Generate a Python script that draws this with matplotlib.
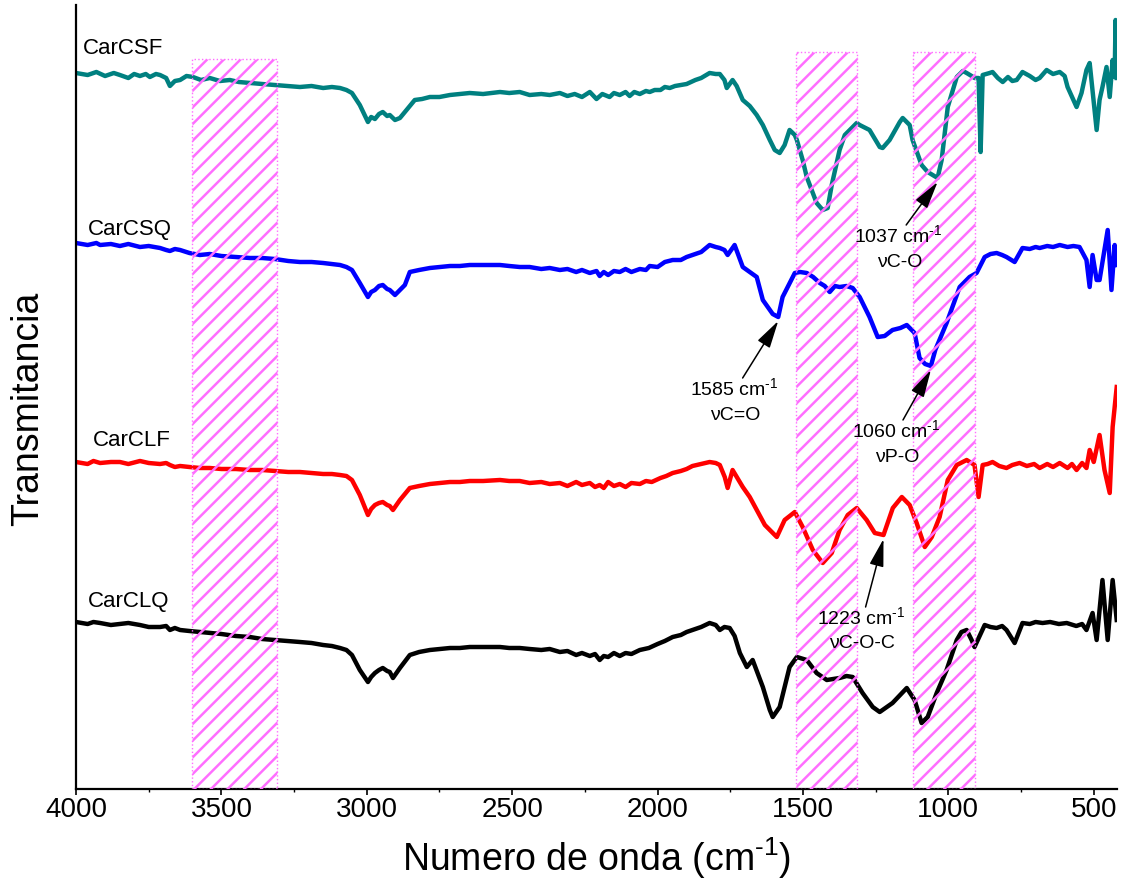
import matplotlib
matplotlib.use("Agg")
import matplotlib.pyplot as plt
from matplotlib.patches import Rectangle
from matplotlib.ticker import MultipleLocator

plt.rcParams['font.family'] = ['Liberation Sans', 'DejaVu Sans']
plt.rcParams['mathtext.fontset'] = 'custom'
plt.rcParams['mathtext.rm'] = 'Liberation Sans'
plt.rcParams['mathtext.it'] = 'Liberation Sans:italic'
plt.rcParams['hatch.linewidth'] = 1.8

# ---- spectra (wavenumber in cm-1, transmittance in offset a.u.) ----
csf = [(4000,72.7),(3960,72.5),(3930,72.8),(3900,72.4),(3870,72.7),(3849,72.5),(3820,72.2),(3800,72.6),(3780,72.4),(3760,72.6),(3746,72.3),(3725,72.6),(3711,72.5),(3690,72.2),(3677,71.4),(3660,71.9),(3642,72.0),(3620,72.4),(3598,72.3),(3570,72.0),(3540,72.2),(3505,71.9),(3471,72.0),(3440,71.8),(3402,71.7),(3360,71.6),(3316,71.5),(3270,71.4),(3230,71.3),(3190,71.4),(3150,71.2),(3120,71.3),(3092,71.2),(3070,71.0),(3051,70.7),(3024,69.5),(2996,67.8),(2985,68.3),(2972,68.1),(2958,68.6),(2945,68.8),(2930,68.4),(2921,68.5),(2903,68.0),(2886,68.2),(2869,68.8),(2835,70.0),(2810,70.1),(2783,70.3),(2750,70.3),(2714,70.5),(2680,70.6),(2646,70.7),(2600,70.6),(2542,70.8),(2510,70.7),(2474,70.8),(2440,70.5),(2400,70.6),(2371,70.5),(2336,70.7),(2310,70.4),(2285,70.6),(2260,70.3),(2233,70.8),(2210,70.1),(2190,70.6),(2165,70.3),(2150,70.7),(2130,70.5),(2110,70.8),(2096,70.4),(2080,70.8),(2061,70.6),(2040,70.9),(2027,70.8),(2010,71.0),(1990,71.0),(1975,71.3),(1958,71.2),(1940,71.4),(1920,71.5),(1900,71.6),(1870,72.0),(1850,72.2),(1821,72.7),(1800,72.6),(1786,72.6),(1770,72.0),(1762,71.2),(1742,72.0),(1728,71.4),(1707,70.0),(1683,69.4),(1659,68.5),(1638,67.5),(1614,66.0),(1597,65.0),(1580,64.7),(1563,65.5),(1546,67.0),(1528,66.5),(1521,66.0),(1501,64.0),(1487,62.3),(1453,59.7),(1432,59.0),(1415,59.2),(1401,61.5),(1374,65.0),(1356,66.5),(1315,67.7),(1305,67.5),(1271,67.0),(1236,65.3),(1226,65.2),(1202,66.0),(1167,67.8),(1157,68.2),(1133,67.5),(1123,66.0),(1092,63.5),(1071,62.8),(1037,62.2),(1023,64.0),(1002,69.3),(971,72.3),(950,72.9),(937,72.7),(920,72.4),(910,72.2),(896,72.2),(889,64.8),(882,72.5),(858,72.7),(848,72.8),(830,72.2),(813,71.8),(795,72.3),(780,71.9),(765,72.0),(745,72.8),(720,72.4),(700,72.0),(686,72.2),(662,73.0),(640,72.6),(617,72.8),(600,72.4),(590,71.3),(559,69.3),(542,70.7),(525,73.0),(514,73.7),(490,67.0),(480,70.0),(470,71.3),(456,73.3),(445,70.3),(435,74.0),(428,72.3),(425,78.0),(421,72.2)]

csq = [(4000,55.7),(3960,55.5),(3930,55.7),(3917,55.5),(3880,55.6),(3849,55.4),(3820,55.6),(3780,55.3),(3750,55.4),(3711,55.2),(3690,55.0),(3677,54.9),(3660,55.1),(3642,55.0),(3610,54.7),(3574,54.5),(3540,54.6),(3500,54.4),(3450,54.3),(3402,54.2),(3360,54.2),(3316,54.1),(3270,53.9),(3230,53.8),(3190,53.8),(3150,53.7),(3120,53.6),(3092,53.5),(3070,53.3),(3051,53.0),(3024,51.7),(2996,50.3),(2985,50.8),(2972,51.0),(2958,51.4),(2945,51.5),(2930,51.1),(2921,51.0),(2903,50.5),(2886,51.0),(2869,51.5),(2852,52.8),(2820,53.0),(2783,53.2),(2750,53.3),(2714,53.4),(2680,53.4),(2646,53.5),(2600,53.5),(2542,53.5),(2510,53.4),(2474,53.3),(2440,53.3),(2400,53.1),(2371,53.2),(2336,53.0),(2310,53.1),(2280,52.8),(2260,53.0),(2233,52.7),(2210,52.9),(2199,52.4),(2185,52.8),(2170,52.5),(2150,52.9),(2130,52.8),(2110,53.1),(2090,52.8),(2061,53.1),(2040,53.0),(2027,53.4),(2000,53.3),(1975,53.8),(1948,54.0),(1920,54.0),(1900,54.3),(1880,54.5),(1850,54.8),(1821,55.5),(1800,55.3),(1786,55.2),(1770,55.0),(1759,54.5),(1735,55.5),(1707,53.3),(1683,52.8),(1659,52.3),(1638,50.0),(1604,48.6),(1585,48.3),(1570,50.3),(1528,52.7),(1510,52.8),(1487,52.7),(1465,52.3),(1442,51.7),(1425,51.4),(1408,50.8),(1390,51.4),(1374,51.3),(1350,51.4),(1329,51.2),(1305,50.3),(1271,48.3),(1243,46.3),(1219,46.4),(1192,47.0),(1165,47.2),(1143,47.5),(1116,46.7),(1099,44.2),(1080,43.6),(1060,43.4),(1045,45.0),(1006,47.7),(961,51.3),(927,52.3),(903,52.7),(875,54.3),(855,54.6),(834,54.7),(815,54.5),(800,54.3),(772,53.8),(745,55.2),(720,55.1),(700,55.3),(686,55.2),(660,55.4),(640,55.3),(617,55.5),(590,55.3),(570,55.4),(549,55.3),(525,54.0),(514,51.3),(504,54.5),(490,52.0),(480,52.0),(463,55.0),(452,57.0),(439,51.0),(428,55.5),(421,53.5)]

clf = [(4000,33.8),(3960,33.6),(3940,33.9),(3917,33.7),(3880,33.8),(3849,33.8),(3820,33.6),(3780,33.9),(3750,33.7),(3711,33.6),(3690,33.7),(3677,33.5),(3660,33.3),(3642,33.4),(3610,33.3),(3574,33.2),(3540,33.2),(3500,33.1),(3450,33.1),(3402,33.0),(3360,33.0),(3316,32.9),(3270,32.8),(3230,32.8),(3190,32.7),(3150,32.6),(3120,32.6),(3092,32.5),(3070,32.4),(3051,32.0),(3024,30.5),(2996,28.5),(2985,29.1),(2972,29.5),(2958,29.7),(2945,29.8),(2930,29.5),(2921,29.4),(2910,29.0),(2886,30.0),(2852,31.2),(2820,31.4),(2783,31.6),(2750,31.7),(2714,31.8),(2680,31.8),(2646,31.9),(2600,31.9),(2542,32.0),(2510,31.9),(2474,31.9),(2440,31.7),(2400,31.8),(2371,31.6),(2336,31.7),(2310,31.4),(2280,31.8),(2260,31.5),(2233,31.7),(2215,31.3),(2199,31.5),(2185,31.2),(2170,31.8),(2150,31.4),(2130,31.6),(2110,31.3),(2090,31.7),(2061,31.6),(2040,31.9),(2020,31.8),(1990,32.2),(1970,32.4),(1948,32.7),(1920,32.9),(1900,33.1),(1880,33.4),(1850,33.6),(1821,33.8),(1800,33.7),(1786,33.5),(1769,32.3),(1759,31.2),(1742,33.0),(1707,31.3),(1683,30.3),(1659,29.0),(1631,27.5),(1614,27.0),(1590,26.3),(1563,28.0),(1528,28.8),(1501,27.3),(1466,25.0),(1432,23.7),(1401,24.7),(1374,27.0),(1346,28.5),(1315,29.2),(1281,28.0),(1253,26.7),(1223,26.5),(1191,29.2),(1160,30.3),(1133,29.5),(1109,27.7),(1081,25.3),(1057,26.3),(1030,28.3),(1002,32.0),(971,33.5),(937,34.0),(910,33.5),(896,30.3),(882,33.5),(865,33.6),(848,33.8),(825,33.4),(800,33.2),(780,33.5),(755,33.7),(730,33.4),(705,33.6),(686,33.2),(660,33.6),(640,33.3),(617,33.7),(590,33.2),(575,33.6),(559,33.0),(540,33.7),(525,33.2),(514,35.0),(500,33.8),(480,36.5),(463,33.0),(445,30.7),(435,37.3),(421,41.3)]

clq = [(4000,17.8),(3960,17.6),(3940,17.8),(3917,17.7),(3880,17.5),(3849,17.6),(3820,17.7),(3780,17.5),(3750,17.3),(3711,17.3),(3690,17.4),(3677,17.0),(3660,17.2),(3642,17.0),(3610,16.9),(3574,16.8),(3540,16.7),(3500,16.6),(3450,16.4),(3402,16.3),(3360,16.1),(3316,16.0),(3270,15.9),(3230,15.8),(3190,15.7),(3150,15.5),(3120,15.4),(3092,15.2),(3070,15.0),(3051,14.5),(3024,13.0),(2996,11.8),(2985,12.3),(2972,12.7),(2958,13.0),(2945,13.2),(2930,12.9),(2921,12.8),(2910,12.2),(2886,13.2),(2852,14.5),(2820,14.8),(2783,15.0),(2750,15.1),(2714,15.2),(2680,15.2),(2646,15.3),(2600,15.3),(2542,15.3),(2510,15.2),(2474,15.2),(2440,15.1),(2400,15.0),(2371,15.1),(2336,14.8),(2310,14.9),(2280,14.5),(2260,14.7),(2233,14.4),(2215,14.6),(2199,14.0),(2185,14.4),(2170,14.3),(2150,14.7),(2130,14.4),(2110,14.7),(2090,14.6),(2061,15.0),(2030,15.2),(2000,15.6),(1975,15.9),(1948,16.3),(1920,16.5),(1900,16.8),(1880,17.0),(1850,17.3),(1821,17.7),(1800,17.5),(1786,17.0),(1770,17.3),(1752,17.2),(1735,16.4),(1717,14.7),(1693,13.3),(1673,14.0),(1638,11.3),(1614,9.0),(1604,8.3),(1580,9.3),(1546,13.3),(1521,14.3),(1487,14.0),(1453,12.7),(1418,12.0),(1374,12.2),(1350,12.4),(1329,12.3),(1295,10.7),(1260,9.3),(1236,8.8),(1192,9.7),(1143,11.2),(1116,10.0),(1092,7.7),(1071,8.3),(1040,10.7),(1006,13.0),(971,16.0),(955,16.8),(937,17.0),(920,16.0),(910,15.3),(875,17.5),(855,17.3),(834,17.2),(815,17.4),(800,17.0),(772,15.7),(745,17.7),(720,17.6),(700,17.8),(676,17.7),(650,17.8),(620,17.6),(593,17.7),(560,17.4),(540,17.6),(525,17.0),(504,18.7),(490,16.0),(470,22.0),(452,16.0),(435,22.0),(421,18.0)]

series_names = ["CarCSF", "CarCSQ", "CarCLF", "CarCLQ"]
series_colors = ["#008080", "#0000FF", "#FF0000", "#000000"]
series_data = [csf, csq, clf, clq]
# label anchor (wavenumber, value) for each trace name
name_pos = [(3976, 75.2), (3959, 57.1), (3942, 36.0), (3959, 19.9)]

# highlighted bands (cm-1) and the top of each band
bands = [(3600, 3310, 74.1), (1525, 1315, 74.8), (1120, 910, 74.8)]

# peak annotations: (label line 1, line 2, peak wn, peak value, text wn, text value)
peaks = [
    ("1037", "\u03bdC-O", 1037, 62.2, 1172, 56.5),
    ("1585", "\u03bdC=O", 1585, 48.3, 1738, 41.2),
    ("1060", "\u03bdP-O", 1060, 43.4, 1180, 37.0),
    ("1223", "\u03bdC-O-C", 1223, 26.5, 1300, 18.3),
]

fig = plt.figure(figsize=(11.24, 8.84), dpi=100)
ax = fig.add_axes([76/1124, 95/884, 1041/1124, 784/884])

for data, color in zip(series_data, series_colors):
    wn = [p[0] for p in data]
    t = [p[1] for p in data]
    ax.plot(wn, t, color=color, lw=3.2, solid_joinstyle='round', zorder=2)

for name, (x, y) in zip(series_names, name_pos):
    ax.text(x, y, name, fontsize=16, ha='left', va='center', zorder=4)

ymin, ymax = 1.1, 79.5
for hi, lo, top in bands:
    rect = Rectangle((lo, ymin), hi - lo, top - ymin, facecolor='none',
                     edgecolor='#FF6EFF', hatch='//', lw=1.0, linestyle=':',
                     zorder=3)
    ax.add_patch(rect)

for l1, l2, px, py, tx, ty in peaks:
    ax.text(tx, ty, l1 + r" cm$^{\text{-1}}$", fontsize=14, ha='center', va='center', zorder=5)
    ax.text(tx - 4, ty - 2.7, l2, fontsize=14, ha='center', va='center', zorder=5)
    # arrow from just outside the label toward the band minimum
    start_y = ty + 1.0 if py > ty else ty - 2.0
    end_y = py - 0.4 if py > ty else py + 0.4
    start_x = tx - (tx - px) * 0.2
    ax.annotate("", xy=(px, end_y), xytext=(start_x, start_y),
                arrowprops=dict(arrowstyle='-|>,head_length=0.85,head_width=0.22',
                                mutation_scale=20, lw=1.1,
                                color='black', shrinkA=0, shrinkB=0),
                zorder=5)

ax.set_xlim(4000, 420)
ax.set_ylim(ymin, ymax)
ax.xaxis.set_major_locator(MultipleLocator(500))
ax.xaxis.set_minor_locator(MultipleLocator(250))
ax.tick_params(axis='x', which='major', direction='out', length=4, width=1.2,
               labelsize=20, pad=2)
ax.tick_params(axis='x', which='minor', direction='out', length=2.5, width=1.0)
ax.set_yticks([])
for side in ('top', 'right'):
    ax.spines[side].set_visible(False)
for side in ('left', 'bottom'):
    ax.spines[side].set_linewidth(1.6)

ax.set_xlabel(r"Numero de onda (cm$^{\text{-1}}$)", fontsize=27, va='center')
ax.xaxis.set_label_coords(0.5, -0.088)
ax.set_ylabel("Transmitancia", fontsize=27, va='center')
ax.yaxis.set_label_coords(-0.046, 0.485)

fig.savefig("out.png", dpi=100)
